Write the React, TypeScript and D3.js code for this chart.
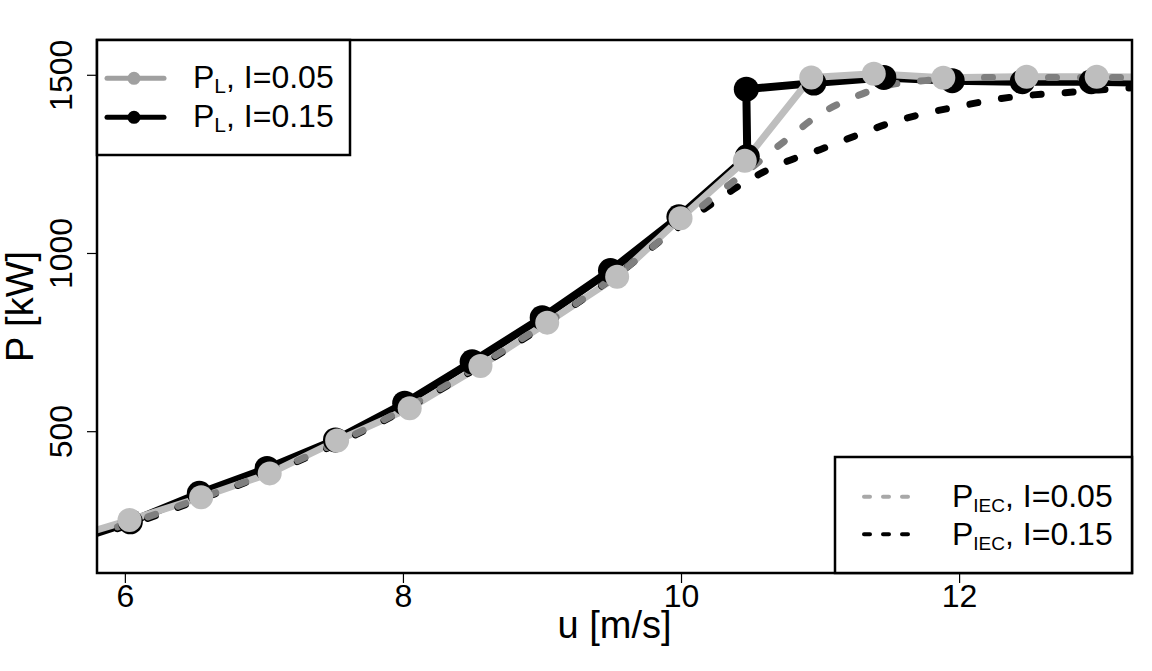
import React from "react";
import * as d3 from "d3";

// P_L, I=0.05 (light grey, solid with markers)
const uL05 = [5.5, 6.03, 6.545, 7.038, 7.523, 8.045, 8.554, 9.034, 9.537, 9.993, 10.455, 10.933, 11.383, 11.883, 12.482, 12.986, 13.5];
const pL05 = [190, 252, 316, 383, 475, 566, 684, 806, 935, 1099, 1260, 1494, 1504, 1493, 1496, 1496, 1495];

// P_L, I=0.15 (black, solid with markers)
const uL15 = [5.5, 6.036, 6.532, 7.019, 7.511, 8.009, 8.494, 8.998, 9.489, 9.981, 10.473, 10.466, 10.952, 11.455, 11.947, 12.451, 12.947, 13.5];
const pL15 = [178, 247, 327, 397, 477, 580, 696, 820, 952, 1103, 1272, 1461, 1478, 1494, 1485, 1482, 1482, 1478];

// P_IEC curves (dashed)
const uIEC = [5.5, 6, 6.5, 7, 7.5, 8, 8.5, 9, 9.5, 10, 10.25, 10.5, 10.75, 11, 11.25, 11.5, 11.75, 12, 12.25, 12.5, 12.75, 13, 13.25, 13.5];
const pIEC05 = [185, 240, 308, 380, 465, 562, 675, 798, 930, 1085, 1165, 1240, 1318, 1392, 1440, 1473, 1485, 1490, 1494, 1494, 1494, 1494, 1494, 1494];
const pIEC15 = [180, 235, 305, 378, 462, 560, 672, 795, 930, 1080, 1148, 1210, 1257, 1292, 1330, 1366, 1393, 1413, 1432, 1444, 1451, 1459, 1465, 1468];

const xTicks = [6, 8, 10, 12];
const yTicks = [500, 1000, 1500];

const FONT = "'Liberation Sans', Arial, Helvetica, sans-serif";

export default function App() {
  const left = 97, right = 1132, top = 40, bottom = 573;
  const x = d3.scaleLinear().domain([5.796, 13.24]).range([left, right]);
  const y = d3.scaleLinear().domain([103.5, 1599]).range([bottom, top]);

  const lin = d3.line<[number, number]>().x(d => x(d[0])).y(d => y(d[1]));
  const smooth = d3.line<[number, number]>().x(d => x(d[0])).y(d => y(d[1])).curve(d3.curveMonotoneX);

  const l05 = uL05.map((u, i) => [u, pL05[i]] as [number, number]);
  const l15 = uL15.map((u, i) => [u, pL15[i]] as [number, number]);
  const i05 = uIEC.map((u, i) => [u, pIEC05[i]] as [number, number]);
  const i15 = uIEC.map((u, i) => [u, pIEC15[i]] as [number, number]);

  const lightGrey = "#bebebe";
  const midGrey = "#7f7f7f";

  return (
    <svg width={1152} height={671} style={{ position: "absolute", left: 0, top: 0, display: "block", background: "#fff" }}>
      <defs>
        <clipPath id="plotclip">
          <rect x={left} y={top} width={right - left} height={bottom - top} />
        </clipPath>
      </defs>
      <rect x={0} y={0} width={1152} height={671} fill="#fff" />
      <g clipPath="url(#plotclip)">
        <path d={lin(l15) || ""} fill="none" stroke="#000" strokeWidth={8} strokeLinejoin="round" />
        <path d={lin(l05) || ""} fill="none" stroke={lightGrey} strokeWidth={7} strokeLinejoin="round" />
        <path d={smooth(i15) || ""} fill="none" stroke="#000" strokeWidth={7} strokeDasharray="8 24" strokeLinecap="round" />
        <path d={smooth(i05) || ""} fill="none" stroke={midGrey} strokeWidth={7} strokeDasharray="8 24" strokeLinecap="round" />
        {l15.map((d, i) => (
          <circle key={"b" + i} cx={x(d[0])} cy={y(d[1])} r={12.5} fill="#000" />
        ))}
        {l05.map((d, i) => (
          <circle key={"g" + i} cx={x(d[0])} cy={y(d[1])} r={12} fill={lightGrey} />
        ))}
      </g>

      {/* frame */}
      <rect x={left} y={top} width={right - left} height={bottom - top} fill="none" stroke="#000" strokeWidth={2.5} />

      {/* x axis ticks */}
      {xTicks.map(t => (
        <g key={"xt" + t}>
          <line x1={x(t)} x2={x(t)} y1={bottom} y2={bottom + 10} stroke="#000" strokeWidth={1.2} />
          <text x={x(t)} y={607} textAnchor="middle" fontFamily={FONT} fontSize={32}>{t}</text>
        </g>
      ))}
      {/* y axis ticks */}
      {yTicks.map(t => (
        <g key={"yt" + t}>
          <line x1={left - 10} x2={left} y1={y(t)} y2={y(t)} stroke="#000" strokeWidth={1.2} />
          <text transform={`translate(72,${y(t)}) rotate(-90)`} textAnchor="middle" fontFamily={FONT} fontSize={32}>{t}</text>
        </g>
      ))}

      {/* axis titles */}
      <text x={(left + right) / 2} y={638} textAnchor="middle" fontFamily={FONT} fontSize={38}>u [m/s]</text>
      <text transform={`translate(33,${(top + bottom) / 2}) rotate(-90)`} textAnchor="middle" fontFamily={FONT} fontSize={38}>P [kW]</text>

      {/* legend top-left */}
      <rect x={left} y={top} width={253} height={115} fill="#fff" stroke="#000" strokeWidth={2.5} />
      <line x1={107} x2={164} y1={78.3} y2={78.3} stroke="#a0a0a0" strokeWidth={5} strokeLinecap="round" />
      <circle cx={134} cy={78.3} r={6.5} fill="#a0a0a0" />
      <text x={193} y={88.3} fontFamily={FONT} fontSize={32}>P<tspan fontSize={21} dy={5}>L</tspan><tspan dy={-5}>, I=0.05</tspan></text>
      <line x1={107} x2={164} y1={117.3} y2={117.3} stroke="#000" strokeWidth={5} strokeLinecap="round" />
      <circle cx={134} cy={117.3} r={6.5} fill="#000" />
      <text x={193} y={126.7} fontFamily={FONT} fontSize={32}>P<tspan fontSize={21} dy={5}>L</tspan><tspan dy={-5}>, I=0.15</tspan></text>

      {/* legend bottom-right */}
      <rect x={835} y={457} width={right - 835} height={bottom - 457} fill="#fff" stroke="#000" strokeWidth={2.5} />
      <line x1={864} x2={908} y1={496.7} y2={496.7} stroke="#a8a8a8" strokeWidth={4} strokeDasharray="6 13" strokeLinecap="round" />
      <text x={952} y={507} fontFamily={FONT} fontSize={32}>P<tspan fontSize={19} dy={5}>IEC</tspan><tspan dy={-5}>, I=0.05</tspan></text>
      <line x1={864} x2={908} y1={534.3} y2={534.3} stroke="#000" strokeWidth={4} strokeDasharray="6 13" strokeLinecap="round" />
      <text x={952} y={544.5} fontFamily={FONT} fontSize={32}>P<tspan fontSize={19} dy={5}>IEC</tspan><tspan dy={-5}>, I=0.15</tspan></text>
    </svg>
  );
}
